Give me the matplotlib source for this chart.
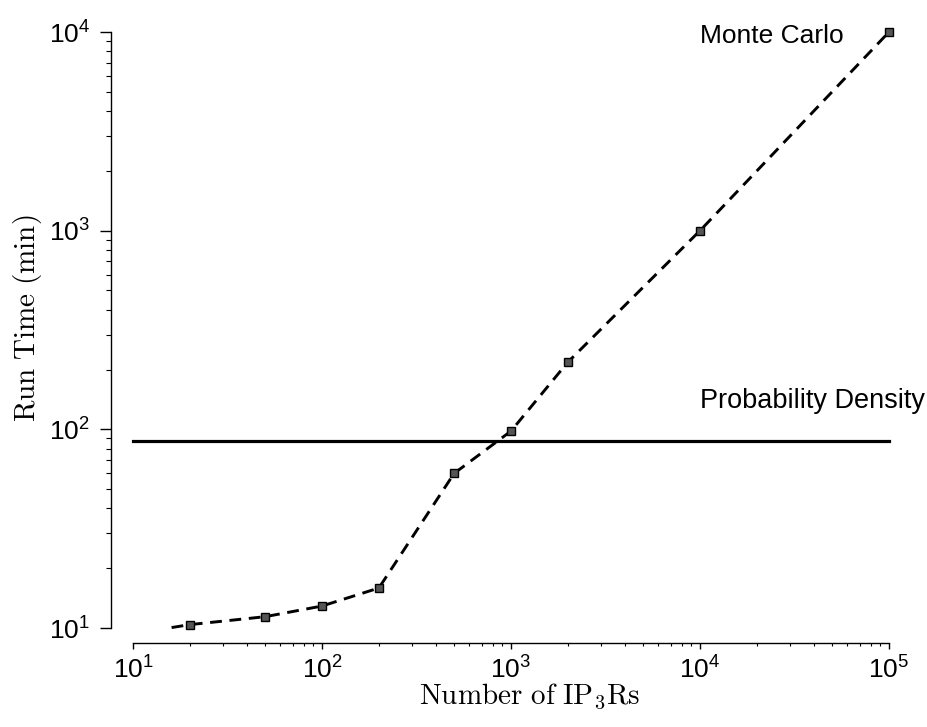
import numpy as np
import matplotlib
matplotlib.use('Agg')
import matplotlib.pyplot as plt
from matplotlib.ticker import LogLocator, NullFormatter

# run times (min) against number of IP3 receptors
n_receptors = [20, 50, 100, 200, 500, 1000, 2000, 10000, 100000]
mc_time = [10.4, 11.4, 12.9, 15.9, 60, 98, 218, 1000, 10000]
# dashed trend line starts a little before the first run
trend_x = [16] + n_receptors
trend_y = [10.05] + mc_time
# probability density run time does not depend on the number of receptors
pd_x = [10, 100000]
pd_time = [87.5, 87.5]

plt.rcParams['font.family'] = ['Liberation Sans', 'DejaVu Sans']
plt.rcParams['mathtext.fontset'] = 'custom'
plt.rcParams['mathtext.rm'] = 'Liberation Sans'
plt.rcParams['mathtext.it'] = 'Liberation Sans:italic'
plt.rcParams['mathtext.bf'] = 'Liberation Sans:bold'
plt.rcParams['lines.scale_dashes'] = False

fig = plt.figure(figsize=(9.28, 7.27), dpi=100)
ax = fig.add_axes([133/928, 99/727, 756/928, 596/727])

ax.plot(trend_x, trend_y, color='k', lw=2.1, dashes=(8.5, 5.5), clip_on=False)
ax.plot(n_receptors, mc_time, ls='none', marker='s', ms=6, mfc='#555555',
        mec='k', mew=1.0, clip_on=False)
ax.plot(pd_x, pd_time, color='k', lw=2.3, clip_on=False)

ax.text(10000, 8790, 'Monte Carlo', fontsize=19, va='baseline', ha='left')
ax.text(10000, 128, 'Probability Density', fontsize=19.5, va='baseline', ha='left')

ax.set_xscale('log')
ax.set_yscale('log')
ax.set_xlim(10, 1e5)
ax.set_ylim(10, 1e4)

ax.xaxis.set_major_locator(LogLocator(base=10, numticks=10))
ax.yaxis.set_major_locator(LogLocator(base=10, numticks=10))
ax.xaxis.set_minor_locator(LogLocator(base=10, subs=np.arange(2, 10), numticks=20))
ax.yaxis.set_minor_locator(LogLocator(base=10, subs=np.arange(2, 10), numticks=20))
ax.xaxis.set_minor_formatter(NullFormatter())
ax.yaxis.set_minor_formatter(NullFormatter())

for side in ['top', 'right']:
    ax.spines[side].set_visible(False)
ax.spines['left'].set_position(('outward', 16))
ax.spines['bottom'].set_position(('outward', 11))
ax.spines['left'].set_linewidth(1.0)
ax.spines['bottom'].set_linewidth(1.0)

ax.tick_params(axis='y', which='major', direction='out', length=8, width=1.0,
               labelsize=19, pad=7)
ax.tick_params(axis='y', which='minor', direction='out', length=3.5, width=0.8)
ax.tick_params(axis='x', which='major', direction='out', length=4.5, width=1.0,
               labelsize=19, pad=5)
ax.tick_params(axis='x', which='minor', direction='out', length=2.5, width=0.8)

ax.set_xlabel(r'$\mathrm{Number\ of\ IP_3Rs}$', fontsize=21, math_fontfamily='cm')
ax.set_ylabel(r'$\mathrm{Run\ Time\ (min)}$', fontsize=21, math_fontfamily='cm')
ax.xaxis.set_label_coords(0.525, -0.09)
ax.yaxis.set_label_coords(-0.118, 0.52)

fig.savefig('out.png', dpi=100)
